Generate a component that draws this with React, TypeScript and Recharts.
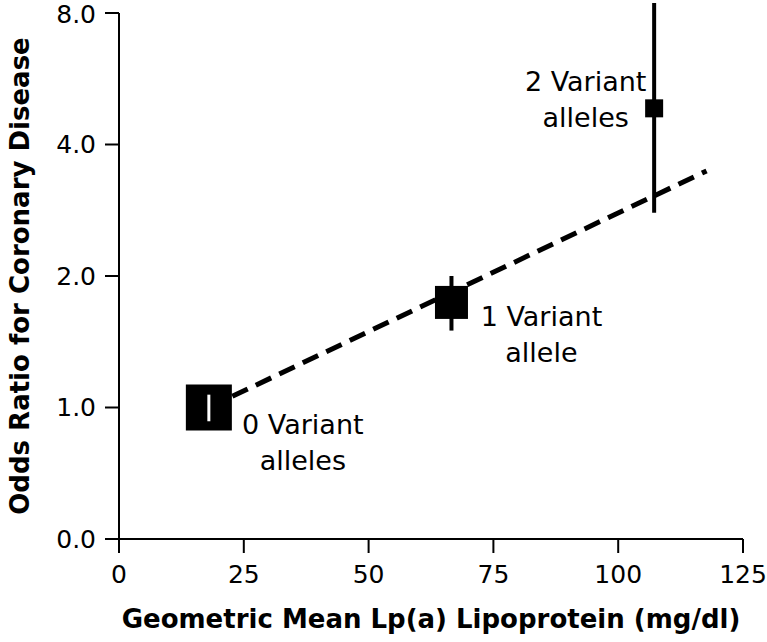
import { ComposedChart, XAxis, YAxis, Scatter, Line, ErrorBar } from "recharts";

// genotype groups
const labelLine1 = ["0 Variant", "1 Variant", "2 Variant"];
const labelLine2 = ["alleles", "allele", "alleles"];
const meanLpa = [18, 66.6, 107.2];
const oddsRatio = [1.0, 1.74, 4.84];
const ciLow = [0.93, 1.5, 2.79];
const ciHigh = [1.07, 2.0, 8.43];

// fitted trend (log odds vs Lp(a))
const trendLpa = [18, 117.7];
const trendOR = [1.0, 3.48];

const xTicks = [0, 25, 50, 75, 100, 125];
const yTicks = [0.5, 1, 2, 4, 8];

// drawing styles
const squareSide = [46, 33, 18];
const labelPos = [
  { dx: 94, dy: 26 },
  { dx: 90, dy: 23.5 },
  { dx: -68.5, dy: -17 },
];
const FONT = "DejaVu Sans";

const points = meanLpa.map((x, i) => ({
  x,
  or: oddsRatio[i],
  err: [oddsRatio[i] - ciLow[i], ciHigh[i] - oddsRatio[i]],
  idx: i,
}));
const trend = trendLpa.map((x, i) => ({ x, or: trendOR[i] }));

const Square = (props: any) => {
  const { cx, cy, payload } = props;
  const i = payload.idx;
  const s = squareSide[i];
  const lp = labelPos[i];
  return (
    <g>
      <rect x={cx - s / 2} y={cy - s / 2} width={s} height={s} fill="#000" />
      <text
        x={cx + lp.dx}
        y={cy + lp.dy}
        textAnchor="middle"
        fontSize={27}
        fontFamily={FONT}
        fill="#000"
      >
        <tspan x={cx + lp.dx}>{labelLine1[i]}</tspan>
        <tspan x={cx + lp.dx} dy={36}>
          {labelLine2[i]}
        </tspan>
      </text>
    </g>
  );
};

const fmtY = (v: number) => (v === 0.5 ? "0.0" : v.toFixed(1));

export default function App() {
  const tick = { fill: "#000", fontSize: 25, fontFamily: FONT };
  return (
    <div style={{ position: "absolute", left: 0, top: 0 }}>
      <style>{`.recharts-wrapper g[clip-path]{clip-path:none !important}`}</style>
      <ComposedChart width={767} height={642} margin={{ top: 13, right: 24, bottom: 0, left: 0 }}>
        <XAxis
          type="number"
          dataKey="x"
          domain={[0, 125]}
          ticks={xTicks}
          tick={tick}
          tickSize={14}
          tickMargin={12}
          height={103}
          axisLine={{ stroke: "#000", strokeWidth: 2 }}
          tickLine={{ stroke: "#000", strokeWidth: 2 }}
          label={{
            value: "Geometric Mean Lp(a) Lipoprotein (mg/dl)",
            position: "insideBottom",
            offset: 14,
            fill: "#000",
            fontSize: 26,
            fontWeight: "bold",
            fontFamily: FONT,
          }}
        />
        <YAxis
          type="number"
          dataKey="or"
          scale="log"
          domain={[0.5, 8]}
          allowDataOverflow
          ticks={yTicks}
          tickFormatter={fmtY}
          tick={tick}
          tickSize={14}
          tickMargin={9}
          width={119}
          axisLine={{ stroke: "#000", strokeWidth: 2 }}
          tickLine={{ stroke: "#000", strokeWidth: 2 }}
          label={{
            value: "Odds Ratio for Coronary Disease",
            angle: -90,
            position: "insideLeft",
            offset: 20,
            fill: "#000",
            fontSize: 26,
            fontWeight: "bold",
            fontFamily: FONT,
            style: { textAnchor: "middle" },
          }}
        />
        <Line
          data={trend}
          dataKey="or"
          stroke="#000"
          strokeWidth={5}
          strokeDasharray="17 9"
          dot={false}
          activeDot={false}
          isAnimationActive={false}
        />
        <Scatter data={points} dataKey="or" shape={Square} isAnimationActive={false}>
          <ErrorBar dataKey="err" direction="y" width={0} stroke="#000" strokeWidth={4} />
        </Scatter>
        <Scatter data={[points[0]]} dataKey="or" shape={() => <g />} isAnimationActive={false} zIndex={1000}>
          <ErrorBar dataKey="err" direction="y" width={0} stroke="#fff" strokeWidth={3} zIndex={1000} />
        </Scatter>
      </ComposedChart>
    </div>
  );
}
